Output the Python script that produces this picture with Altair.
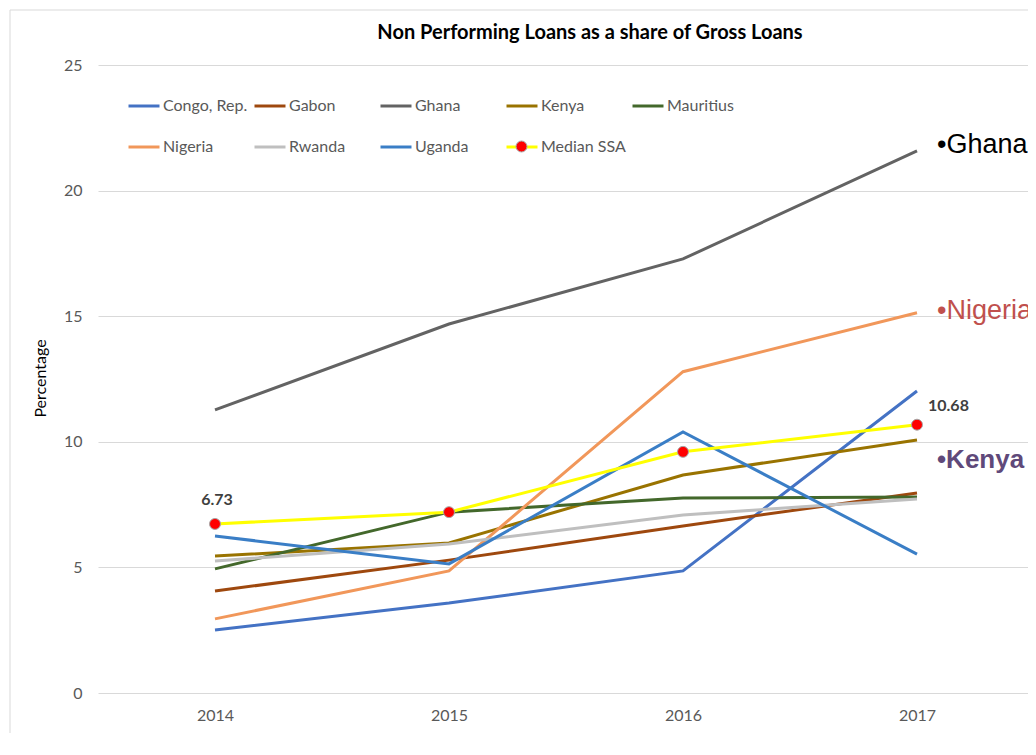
import altair as alt
import pandas as pd

years = [2014, 2015, 2016, 2017]
series_names = ["Congo, Rep.", "Gabon", "Ghana", "Kenya", "Mauritius",
                "Nigeria", "Rwanda", "Uganda", "Median SSA"]
congo = [2.51, 3.58, 4.86, 12.02]
gabon = [4.06, 5.29, 6.65, 7.96]
ghana = [11.27, 14.69, 17.28, 21.58]
kenya = [5.45, 5.97, 8.68, 10.07]
mauritius = [4.94, 7.20, 7.76, 7.80]
nigeria = [2.95, 4.86, 12.79, 15.14]
rwanda = [5.25, 5.93, 7.09, 7.72]
uganda = [6.25, 5.14, 10.39, 5.53]
median_ssa = [6.73, 7.20, 9.60, 10.68]
series_colors = ["#4472C4", "#9E480E", "#636363", "#997300", "#43682B",
                 "#F1975A", "#BFBFBF", "#3A7EC6", "#FFFF00"]

values = [congo, gabon, ghana, kenya, mauritius, nigeria, rwanda, uganda, median_ssa]
rows = []
for i, (name, vals) in enumerate(zip(series_names, values)):
    for y, v in zip(years, vals):
        rows.append({"series": name, "year": y, "value": v, "order": i})
df = pd.DataFrame(rows)

FONT = "Lato"
W, H = 930, 628
x_scale = alt.Scale(domain=[2013.5, 2013.5 + W / 234.0], nice=False, zero=False)
y_scale = alt.Scale(domain=[0, 25], nice=False)

x_enc = alt.X("year:Q", scale=x_scale,
              axis=alt.Axis(values=years, format="d", title=None, grid=False,
                            domain=False, ticks=False, labelPadding=14,
                            labelFontSize=16, labelColor="#595959", labelFont=FONT))
y_enc = alt.Y("value:Q", scale=y_scale,
              axis=alt.Axis(values=[0, 5, 10, 15, 20, 25], title="Percentage",
                            grid=True, gridColor="#D9D9D9", domain=False, ticks=False,
                            labelPadding=16, labelFontSize=16, labelColor="#595959",
                            labelFont=FONT, titleFont=FONT, titleFontSize=16,
                            titleFontWeight="normal", titleColor="#000000",
                            titleX=-50, titleY=313, titleAngle=-90, titleAlign="center",
                            titleBaseline="bottom"))

frame = alt.Chart(pd.DataFrame({"k": [0]})).mark_rect(
    fill=None, stroke="#D9D9D9", strokeWidth=1).encode(
    x=alt.value(-88), x2=alt.value(3000), y=alt.value(-55), y2=alt.value(3000))

lines = alt.Chart(df).mark_line(strokeWidth=3).encode(
    x=x_enc, y=y_enc,
    color=alt.Color("series:N",
                    scale=alt.Scale(domain=series_names, range=series_colors),
                    sort=series_names,
                    legend=alt.Legend(orient="none", legendX=29, legendY=24,
                                      direction="horizontal", gridAlign="all",
                                      columns=5, title=None, symbolType="stroke",
                                      symbolSize=961, symbolStrokeWidth=3,
                                      labelFont=FONT, labelFontSize=16,
                                      labelColor="#595959", columnPadding=0,
                                      rowPadding=16, labelOffset=2)),
    detail="series:N",
    order=alt.Order("year:Q"),
)

med = df[df["series"] == "Median SSA"]
points = alt.Chart(med).mark_point(filled=True, size=120, stroke="#A6A6A6",
                                   strokeWidth=1, opacity=1).encode(
    x=alt.X("year:Q", scale=x_scale),
    y=alt.Y("value:Q", scale=y_scale),
    fill=alt.Fill("series:N",
                  scale=alt.Scale(domain=["Median SSA"], range=["#FF0000"]),
                  legend=alt.Legend(orient="none", legendX=416, legendY=74,
                                    title=None, symbolType="circle", symbolSize=120,
                                    symbolStrokeColor="#A6A6A6", symbolStrokeWidth=1,
                                    labelExpr="''", labelFontSize=15)),
)

first = med[med["year"] == 2014]
last = med[med["year"] == 2017]
lab_first = alt.Chart(first).mark_text(font=FONT, fontSize=16, fontWeight="bold",
                                      color="#404040", dy=-24, dx=2).encode(
    x=alt.X("year:Q", scale=x_scale), y=alt.Y("value:Q", scale=y_scale),
    text=alt.Text("value:Q", format=".2f"))
lab_last = alt.Chart(last).mark_text(font=FONT, fontSize=16, fontWeight="bold",
                                    color="#404040", dy=-19, dx=11, align="left").encode(
    x=alt.X("year:Q", scale=x_scale), y=alt.Y("value:Q", scale=y_scale),
    text=alt.Text("value:Q", format=".2f"))

ghana_last = df[(df["series"] == "Ghana") & (df["year"] == 2017)]
nigeria_last = df[(df["series"] == "Nigeria") & (df["year"] == 2017)]
kenya_last = df[(df["series"] == "Kenya") & (df["year"] == 2017)]

def side_label(d, txt, color, dy, weight="normal", size=27):
    return alt.Chart(d).mark_text(font="Liberation Sans", fontSize=size,
                                  fontWeight=weight, color=color, align="left",
                                  dx=20, dy=dy).encode(
        x=alt.X("year:Q", scale=x_scale), y=alt.Y("value:Q", scale=y_scale),
        text=alt.value(txt))

lab_ghana = side_label(ghana_last, "\u2022Ghana", "#000000", -6)
lab_nigeria = side_label(nigeria_last, "\u2022Nigeria", "#C0504D", -2)
lab_kenya = side_label(kenya_last, "\u2022Kenya", "#5F497A", 20, weight="bold", size=26)

chart = alt.layer(frame, lines, points, lab_first, lab_last, lab_ghana, lab_nigeria,
                  lab_kenya).properties(
    width=W, height=H,
    autosize=alt.AutoSizeParams(type="none"),
    padding={"left": 90, "top": 57, "right": 0, "bottom": 40},
    title=alt.TitleParams("Non Performing Loans as a share of Gross Loans",
                          font=FONT, fontSize=20, fontWeight="bold",
                          color="#000000", anchor="middle", dx=27, offset=0, dy=33),
).configure_view(stroke=None).configure_legend(padding=0)

chart.save("out.html", embed_options={"renderer": "svg", "actions": False})
